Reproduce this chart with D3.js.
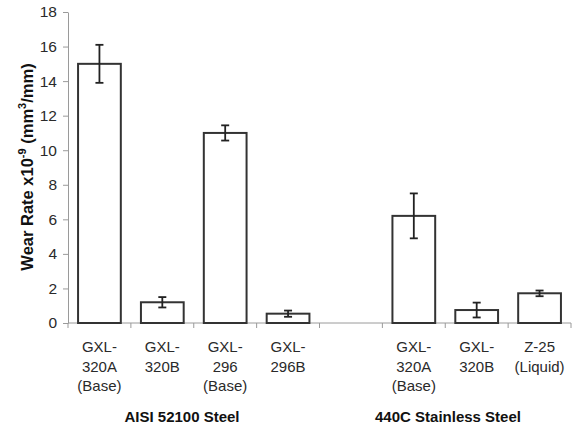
<!DOCTYPE html>
<html>
<head>
<meta charset="utf-8">
<script src="https://cdn.jsdelivr.net/npm/d3@7"></script>
<style>
  html, body { margin: 0; padding: 0; background: #fff; }
  svg { display: block; font-family: Arial, "Liberation Sans", sans-serif; }
</style>
</head>
<body>
<svg id="chart" width="572" height="427"></svg>
<script>
// Slots along the x axis; the empty slot separates the two steel groups
const slots = ["a1", "a2", "a3", "a4", "gap", "b1", "b2", "b3"];
const labels = [
  ["GXL-", "320A", "(Base)"],
  ["GXL-", "320B"],
  ["GXL-", "296", "(Base)"],
  ["GXL-", "296B"],
  [],
  ["GXL-", "320A", "(Base)"],
  ["GXL-", "320B"],
  ["Z-25", "(Liquid)"]
];
const wearRate = [15.0, 1.2, 11.0, 0.54, null, 6.2, 0.75, 1.72];
const errLow   = [1.1, 0.3, 0.44, 0.18, null, 1.3, 0.43, 0.17];
const errHigh  = [1.1, 0.3, 0.44, 0.18, null, 1.3, 0.43, 0.16];
const yTicks = [0, 2, 4, 6, 8, 10, 12, 14, 16, 18];
const groups = [
  { name: "AISI 52100 Steel", x: 182 },
  { name: "440C Stainless Steel", x: 448 }
];

const svg = d3.select("#chart");
const plot = { left: 68, right: 571, top: 12, bottom: 323 };

const x = d3.scaleBand().domain(slots).range([plot.left, plot.right]).paddingInner(0).paddingOuter(0);
const y = d3.scaleLinear().domain([0, 18]).range([plot.bottom, plot.top]);
const barW = x.bandwidth() * 0.68;

const axisColor = "#9a9a9a";
const textColor = "#2a2a2a";

// y axis
const yAxis = svg.append("g")
  .attr("transform", `translate(${plot.left},0)`)
  .call(d3.axisLeft(y).tickValues(yTicks).tickSize(5).tickSizeOuter(0).tickPadding(6).tickFormat(d3.format("d")));
yAxis.select(".domain").attr("stroke", axisColor).attr("stroke-width", 1);
yAxis.selectAll(".tick line").attr("stroke", axisColor);
yAxis.selectAll(".tick text").attr("fill", textColor).style("font-size", "15.5px").style("font-family", "Arial, 'Liberation Sans', sans-serif");

// x axis with ticks at slot boundaries
const xAxis = svg.append("g").attr("transform", `translate(0,${plot.bottom})`);
xAxis.append("line").attr("x1", plot.left).attr("x2", plot.right).attr("stroke", axisColor);
xAxis.selectAll("line.tk")
  .data(slots.map((s) => x(s)).concat([plot.right]))
  .join("line").attr("class", "tk")
  .attr("x1", (d) => d).attr("x2", (d) => d)
  .attr("y1", 0).attr("y2", 5)
  .attr("stroke", axisColor);

const data = slots.map((s, i) => ({ s, v: wearRate[i], lo: errLow[i], hi: errHigh[i], lab: labels[i] }))
  .filter((d) => d.v !== null);

// bars
svg.append("g").selectAll("rect")
  .data(data).join("rect")
  .attr("x", (d) => x(d.s) + (x.bandwidth() - barW) / 2)
  .attr("y", (d) => y(d.v))
  .attr("width", barW)
  .attr("height", (d) => y(0) - y(d.v))
  .attr("fill", "#fff")
  .attr("stroke", "#333")
  .attr("stroke-width", 2);

// error bars
const eb = svg.append("g").attr("stroke", "#222").attr("stroke-width", 1.8);
data.forEach((d) => {
  const cx = x(d.s) + x.bandwidth() / 2;
  const y1 = y(d.v + d.hi), y2 = y(d.v - d.lo);
  eb.append("line").attr("x1", cx).attr("x2", cx).attr("y1", y1).attr("y2", y2);
  eb.append("line").attr("x1", cx - 4).attr("x2", cx + 4).attr("y1", y1).attr("y2", y1);
  eb.append("line").attr("x1", cx - 4).attr("x2", cx + 4).attr("y1", y2).attr("y2", y2);
});

// category labels
const catG = svg.append("g").attr("fill", textColor).style("font-size", "15px").attr("text-anchor", "middle");
data.forEach((d) => {
  const cx = x(d.s) + x.bandwidth() / 2;
  d.lab.forEach((t, j) => {
    catG.append("text").attr("x", cx).attr("y", 352 + j * 19.5).text(t);
  });
});

// group labels
svg.append("g").selectAll("text")
  .data(groups).join("text")
  .attr("x", (d) => d.x).attr("y", 422)
  .attr("text-anchor", "middle")
  .attr("fill", "#111")
  .style("font-size", "15px").style("font-weight", "bold")
  .text((d) => d.name);

// y axis title
const yt = svg.append("text")
  .attr("transform", "translate(33,167) rotate(-90)")
  .attr("text-anchor", "middle")
  .attr("fill", "#111")
  .style("font-size", "16.5px").style("font-weight", "bold");
yt.append("tspan").text("Wear Rate x10");
yt.append("tspan").attr("dy", -7).style("font-size", "11px").text("-9");
yt.append("tspan").attr("dy", 7).text(" (mm");
yt.append("tspan").attr("dy", -7).style("font-size", "11px").text("3");
yt.append("tspan").attr("dy", 7).text("/mm)");
</script>
</body>
</html>
